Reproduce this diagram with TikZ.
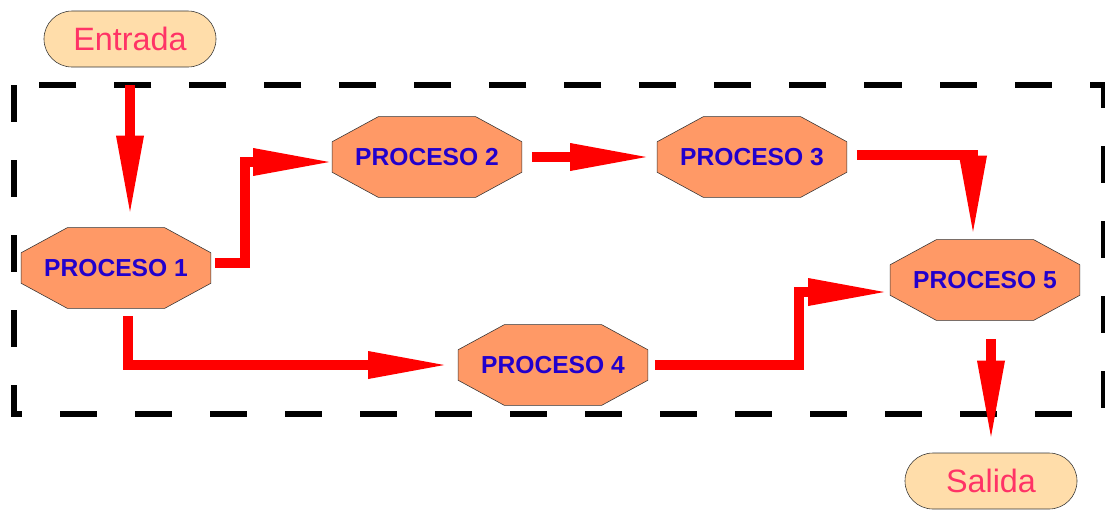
\documentclass[tikz,border=0pt]{standalone}
\usepackage{fontspec}
\setmainfont{Liberation Sans}
\usetikzlibrary{arrows.meta,shapes.misc,backgrounds}

\definecolor{procfill}{RGB}{255,153,102}
\definecolor{procblue}{RGB}{34,0,204}
\definecolor{termfill}{RGB}{255,221,170}
\definecolor{termpink}{RGB}{255,51,102}
\definecolor{flowred}{RGB}{255,0,0}

\tikzset{
  proceso/.style={rectangle, minimum width=4.725cm, minimum height=2cm,
    inner sep=0pt, text=procblue, font=\fontsize{17.5}{20}\selectfont\bfseries},
  octagono/.style={draw=black!80, fill=procfill},
  terminal/.style={rounded rectangle, minimum width=4.3cm, minimum height=1.4cm,
    inner sep=0pt, draw=black!80, fill=termfill, text=termpink,
    font=\fontsize{23}{26}\selectfont},
  flujo/.style={draw=flowred, line width=0.25cm, line join=miter,
    -{Triangle[length=1.9cm, width=0.7cm, line width=0pt]}},
  marco/.style={line width=0.16cm, dash pattern=on 0.925cm off 0.95cm}
}

\begin{document}
\begin{tikzpicture}[x=0.025cm, y=-0.025cm]
  \useasboundingbox (0,0) rectangle (1105,509);
  \draw [marco] (14,85) rectangle (1104,414);

  \node [terminal] (entrada) at (130,39) {Entrada};
  \node [proceso] (p1) at (116,268) {PROCESO 1};
  \node [proceso] (p2) at (427,157) {PROCESO 2};
  \node [proceso] (p3) at (752,157) {PROCESO 3};
  \node [proceso] (p4) at (553,365) {PROCESO 4};
  \node [proceso] (p5) at (985,280) {PROCESO 5};
  \node [terminal] (salida) at (991,481) {Salida};

  % octagonos detras del texto
  \begin{scope}[on background layer]
    \foreach \n in {p1,p2,p3,p4,p5}
      \draw [octagono] ([xshift=1.15cm]\n.north west) -- ([xshift=-1.15cm]\n.north east)
        -- ([yshift=-0.625cm]\n.north east) -- ([yshift=0.625cm]\n.south east)
        -- ([xshift=-1.15cm]\n.south east) -- ([xshift=1.15cm]\n.south west)
        -- ([yshift=0.625cm]\n.south west) -- ([yshift=-0.625cm]\n.north west) -- cycle;
  \end{scope}

  \draw [flujo, shorten <=0.45cm, shorten >=0.4cm] (entrada.south) -- (entrada.south |- p1.north);
  \draw [flujo, shorten <=0.1cm, shorten >=0.075cm] ([yshift=0.125cm]p1.east) -- ++(34,0) |- ([yshift=-0.125cm]p2.west);
  \draw [flujo, shorten <=0.25cm, shorten >=0.275cm] (p2) -- (p3);
  \draw [flujo, shorten <=0.25cm, shorten >=0.2cm] ([yshift=0.05cm]p3.east) -| ([xshift=-0.3cm]p5.north);
  \draw [flujo, shorten <=0.2cm, shorten >=0.35cm] ([xshift=0.3cm]p1.south) |- (p4.west);
  \draw [flujo, shorten <=0.175cm, shorten >=0.15cm] (p4.east) -- ++(151,0) |- ([yshift=-0.3cm]p5.west);
  \draw [flujo, shorten <=0.475cm, shorten >=0.4cm] (p5.south -| salida.north) -- (salida.north);
\end{tikzpicture}
\end{document}
